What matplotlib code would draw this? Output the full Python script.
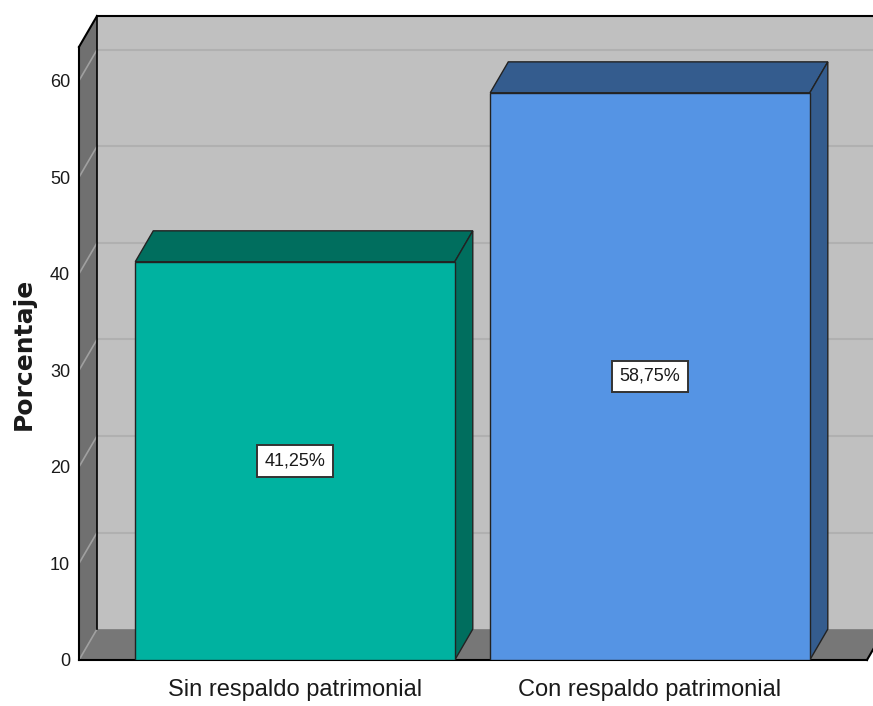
import numpy as np
import matplotlib.pyplot as plt
from matplotlib.patches import Polygon

# datos del grafico
categorias = ["Sin respaldo patrimonial", "Con respaldo patrimonial"]
porcentajes = [41.25, 58.75]
etiquetas = ["41,25%", "58,75%"]
y_ticks = [0, 10, 20, 30, 40, 50, 60]

col_frente = ["#00B2A0", "#5594E4"]
col_oscuro = ["#006E5E", "#345C8E"]

# geometria del efecto 3D (en unidades de datos)
ANCHO = 0.9
DX = 0.0507
DY = 3.2
X0 = -0.6085
X1 = 1.628
XR = 1.611
TOPE = 63.5
YMAX = TOPE + DY


def main():
	plt.rcParams['font.family'] = ['Liberation Sans', 'DejaVu Sans']

	fig = plt.figure(figsize=(8.73, 7.06), dpi=100)
	ax = fig.add_axes([79/873, 46/706, 794/873, 644/706])
	ax.set_xlim(X0, X1)
	ax.set_ylim(0, YMAX)
	for s in ax.spines.values():
		s.set_visible(False)

	# pared del fondo
	ax.add_patch(Polygon([(X0+DX, DY), (X1+1, DY), (X1+1, YMAX+1), (X0+DX, YMAX+1)],
		closed=True, fc="#C0C0C0", ec="none", zorder=0))
	for v in y_ticks[1:]:
		ax.plot([X0+DX, X1], [v+DY, v+DY], color="#B0B0B0", lw=1.5, zorder=1)

	# panel izquierdo
	ax.add_patch(Polygon([(X0, 0), (X0, TOPE), (X0+DX, YMAX), (X0+DX, DY)],
		closed=True, fc="#707070", ec="none", zorder=1))
	for v in y_ticks:
		ax.plot([X0, X0+DX], [v, v+DY], color="#A0A0A0", lw=1.2, zorder=2)

	# piso
	ax.add_patch(Polygon([(X0, 0), (XR, 0), (XR+DX, DY), (X0+DX, DY)],
		closed=True, fc="#777777", ec="none", zorder=1))

	# bordes negros
	ax.plot([X0, X0], [0, TOPE], color="black", lw=1.5, zorder=3, clip_on=False)
	ax.plot([X0, X0+DX], [TOPE, YMAX], color="black", lw=1.5, zorder=3, clip_on=False)
	ax.plot([X0+DX, X1], [YMAX, YMAX], color="black", lw=1.5, zorder=3, clip_on=False)
	ax.plot([X0+DX, X0+DX], [DY, YMAX], color="black", lw=1.2, zorder=3)
	ax.plot([X0, XR], [0, 0], color="black", lw=1.5, zorder=3, clip_on=False)
	ax.plot([XR, XR+DX], [0, DY], color="black", lw=1.5, zorder=3, clip_on=False)

	# barras
	x = np.arange(len(categorias))
	ax.bar(x, porcentajes, ANCHO, color=col_frente, edgecolor="#222222", lw=1.0, zorder=5)
	for i in range(len(x)):
		v = porcentajes[i]
		izq = x[i] - ANCHO/2
		der = x[i] + ANCHO/2
		techo = [(izq, v), (der, v), (der+DX, v+DY), (izq+DX, v+DY)]
		lado = [(der, 0), (der+DX, DY), (der+DX, v+DY), (der, v)]
		ax.add_patch(Polygon(techo, closed=True, fc=col_oscuro[i], ec="#222222", lw=1.0, zorder=4))
		ax.add_patch(Polygon(lado, closed=True, fc=col_oscuro[i], ec="#222222", lw=1.0, zorder=4))
		ax.text(x[i], v/2, etiquetas[i], ha="center", va="center", fontsize=13, color="#1a1a1a",
			bbox=dict(boxstyle="square,pad=0.4", fc="white", ec="#333333", lw=1.4), zorder=6)

	# ejes
	ax.set_yticks(y_ticks)
	ax.set_yticklabels([str(t) for t in y_ticks])
	ax.tick_params(axis="y", length=0, pad=6.5, labelsize=13, labelcolor="#1a1a1a")
	ax.set_xticks(x)
	ax.set_xticklabels(categorias)
	ax.tick_params(axis="x", length=0, pad=14, labelsize=17, labelcolor="#1a1a1a")

	fig.text(23.5/873, 1-354/706, "Porcentaje", rotation=90, ha="center", va="center",
		fontsize=18, fontweight="bold", family="DejaVu Sans", color="#1a1a1a")

	plt.savefig("out.png", dpi=100)


main()
